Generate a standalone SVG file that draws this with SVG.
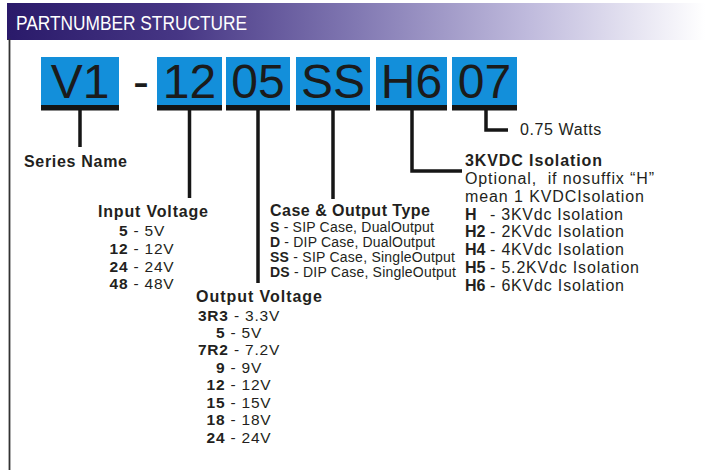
<svg xmlns="http://www.w3.org/2000/svg" width="705" height="470" viewBox="0 0 705 470">
<defs>
<linearGradient id="hdr" x1="0" y1="0" x2="1" y2="0">
<stop offset="0" stop-color="#2a1a6a"/>
<stop offset="0.25" stop-color="#473785"/>
<stop offset="0.5" stop-color="#8178b2"/>
<stop offset="0.75" stop-color="#c0bbdd"/>
<stop offset="1" stop-color="#ffffff"/>
</linearGradient>
<style>
.box{fill:#138fda}
.bar{fill:#141414}
.big{font-family:"Liberation Sans",Arial,sans-serif;font-size:48px;fill:#1b1b1b;text-anchor:middle}
.t{font-family:"Liberation Sans",Arial,sans-serif;fill:#231f20}
.h{font-size:16px;font-weight:bold}
.r{font-size:15.5px;letter-spacing:0.8px}
.c{font-size:14px}
.b{font-weight:bold}
.mid{text-anchor:middle}
.conn{fill:none;stroke:#161616;stroke-width:3.5;stroke-linejoin:miter}
</style>
</defs>
<rect width="705" height="470" fill="#ffffff"/>
<g id="header">
<rect x="7" y="3" width="698" height="37" fill="url(#hdr)"/>
<text x="16" y="29.5" font-family="'Liberation Sans',Arial,sans-serif" font-size="21" fill="#ffffff" textLength="231" lengthAdjust="spacingAndGlyphs">PARTNUMBER STRUCTURE</text>
<line x1="9.5" y1="39" x2="9.5" y2="470" stroke="#333333" stroke-width="1.8"/>
</g>
<g id="seg-v1">
<rect class="box" x="41" y="57" width="78" height="48"/>
<rect class="bar" x="41" y="105" width="78" height="5.5"/>
<text class="big" x="80" y="98">V1</text>
</g>
<g id="dash">
<text class="big" x="141" y="98" fill="#444">-</text>
</g>
<g id="seg-12">
<rect class="box" x="157" y="57" width="65" height="48"/>
<rect class="bar" x="157" y="105" width="65" height="5.5"/>
<text class="big" x="189.5" y="98">12</text>
</g>
<g id="seg-05">
<rect class="box" x="226" y="57" width="64" height="48"/>
<rect class="bar" x="226" y="105" width="64" height="5.5"/>
<text class="big" x="258" y="98">05</text>
</g>
<g id="seg-ss">
<rect class="box" x="296" y="57" width="74" height="48"/>
<rect class="bar" x="296" y="105" width="74" height="5.5"/>
<text class="big" x="333" y="98">SS</text>
</g>
<g id="seg-h6">
<rect class="box" x="376" y="57" width="71" height="48"/>
<rect class="bar" x="376" y="105" width="71" height="5.5"/>
<text class="big" x="411.5" y="98">H6</text>
</g>
<g id="seg-07">
<rect class="box" x="452" y="57" width="65" height="48"/>
<rect class="bar" x="452" y="105" width="65" height="5.5"/>
<text class="big" x="484.5" y="98">07</text>
</g>
<g id="connectors">
<path class="conn" d="M80 110V147"/>
<path class="conn" d="M189.5 110V198"/>
<path class="conn" d="M258 110V283"/>
<path class="conn" d="M333 110V199"/>
<path class="conn" d="M412 110V171H462"/>
<path class="conn" d="M486 110V130H508"/>
</g>
<g id="series-name">
<text class="t h" x="24" y="167" textLength="103">Series Name</text>
</g>
<g id="input-voltage">
<text class="t h" x="98" y="217" textLength="110">Input Voltage</text>
<text class="t r mid" x="142" y="236"><tspan class="b">5</tspan> - 5V</text>
<text class="t r mid" x="142" y="253.5"><tspan class="b">12</tspan> - 12V</text>
<text class="t r mid" x="142" y="271.5"><tspan class="b">24</tspan> - 24V</text>
<text class="t r mid" x="142" y="289"><tspan class="b">48</tspan> - 48V</text>
</g>
<g id="output-voltage">
<text class="t h" x="196" y="301.5" textLength="126">Output Voltage</text>
<text class="t r mid" x="239" y="320.5"><tspan class="b">3R3</tspan> - 3.3V</text>
<text class="t r mid" x="239" y="337.5"><tspan class="b">5</tspan> - 5V</text>
<text class="t r mid" x="239" y="355"><tspan class="b">7R2</tspan> - 7.2V</text>
<text class="t r mid" x="239" y="372.5"><tspan class="b">9</tspan> - 9V</text>
<text class="t r mid" x="239" y="390"><tspan class="b">12</tspan> - 12V</text>
<text class="t r mid" x="239" y="408"><tspan class="b">15</tspan> - 15V</text>
<text class="t r mid" x="239" y="425"><tspan class="b">18</tspan> - 18V</text>
<text class="t r mid" x="239" y="443"><tspan class="b">24</tspan> - 24V</text>
</g>
<g id="case-output-type">
<text class="t h" x="270" y="216" textLength="160">Case &amp; Output Type</text>
<text class="t c" x="270" y="232" textLength="164"><tspan class="b">S</tspan> - SIP Case, DualOutput</text>
<text class="t c" x="270" y="247" textLength="165"><tspan class="b">D</tspan> - DIP Case, DualOutput</text>
<text class="t c" x="270" y="262" textLength="185"><tspan class="b">SS</tspan> - SIP Case, SingleOutput</text>
<text class="t c" x="270" y="276.5" textLength="186"><tspan class="b">DS</tspan> - DIP Case, SingleOutput</text>
</g>
<g id="isolation">
<text class="t h" x="465" y="166" textLength="137">3KVDC Isolation</text>
<text class="t" x="465" y="184" font-size="16" textLength="189" xml:space="preserve">Optional,  if nosuffix “H”</text>
<text class="t" x="465" y="202" font-size="16" textLength="179">mean 1 KVDCIsolation</text>
<text class="t" x="465" y="219.5" font-size="16"><tspan class="b">H</tspan><tspan x="490" textLength="133">- 3KVdc Isolation</tspan></text>
<text class="t" x="465" y="237" font-size="16"><tspan class="b">H2</tspan><tspan x="490" textLength="134">- 2KVdc Isolation</tspan></text>
<text class="t" x="465" y="255" font-size="16"><tspan class="b">H4</tspan><tspan x="490" textLength="134">- 4KVdc Isolation</tspan></text>
<text class="t" x="465" y="273" font-size="16"><tspan class="b">H5</tspan><tspan x="490" textLength="149">- 5.2KVdc Isolation</tspan></text>
<text class="t" x="465" y="290.5" font-size="16"><tspan class="b">H6</tspan><tspan x="490" textLength="134">- 6KVdc Isolation</tspan></text>
</g>
<g id="watts">
<text class="t" x="520" y="135" font-size="16" letter-spacing="0.6">0.75 Watts</text>
</g>
</svg>
